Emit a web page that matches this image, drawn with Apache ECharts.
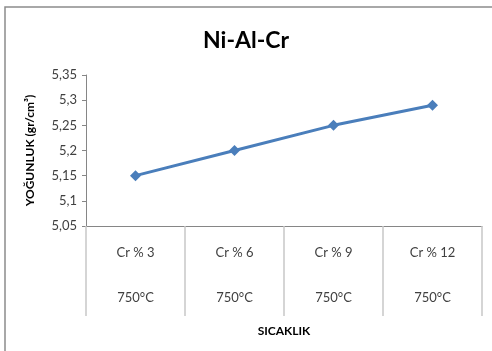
<!DOCTYPE html>
<html>
<head>
<meta charset="utf-8">
<script src="https://cdn.jsdelivr.net/npm/echarts@6/dist/echarts.min.js"></script>
<style>
  html, body { margin: 0; padding: 0; background: #fff; }
  #chart { width: 492px; height: 351px; }
</style>
</head>
<body>
<div id="chart"></div>
<script>
// Density of Ni-Al-Cr alloys sintered at 750°C, by Cr content
const compositions = ['Cr % 3', 'Cr % 6', 'Cr % 9', 'Cr % 12'];
const temperatures = ['750°C', '750°C', '750°C', '750°C'];
const density = [5.15, 5.2, 5.25, 5.29];

const FONT = "Lato, 'Liberation Sans', sans-serif";
const categories = compositions.map((c, i) => c + '\n\n' + temperatures[i]);

const chart = echarts.init(document.getElementById('chart'), null, { renderer: 'canvas' });
chart.setOption({
  animation: false,
  backgroundColor: '#ffffff',
  textStyle: { fontFamily: FONT },
  graphic: [{
    type: 'rect',
    shape: { x: 5, y: 7, width: 600, height: 500 },
    style: { fill: 'none', stroke: '#8c8c8c', lineWidth: 1.5 },
    silent: true
  }],
  title: {
    text: 'Ni-Al-Cr',
    left: 'center',
    top: 24,
    textStyle: { fontFamily: FONT, fontSize: 23, fontWeight: 'bold', color: '#000' }
  },
  grid: { left: 86, right: 10, top: 75, bottom: 125, containLabel: false },
  xAxis: {
    type: 'category',
    data: categories,
    boundaryGap: true,
    name: 'SICAKLIK',
    nameLocation: 'middle',
    nameGap: 99,
    nameTextStyle: { fontFamily: FONT, fontSize: 12, fontWeight: 'bold', color: '#000' },
    axisLine: { lineStyle: { color: '#868686', width: 1 } },
    axisTick: { show: true, interval: 0, length: 90, alignWithLabel: false, lineStyle: { color: '#c8c8c8', width: 1.5 } },
    axisLabel: {
      interval: 0, margin: 16, fontSize: 13, lineHeight: 22.5,
      color: '#404040', fontFamily: FONT
    },
    splitLine: { show: false }
  },
  yAxis: {
    type: 'value',
    min: 5.05,
    max: 5.35,
    interval: 0.05,
    name: 'YOĞUNLUK (gr/cm³)',
    nameLocation: 'middle',
    nameGap: 50,
    nameRotate: 90,
    nameTextStyle: { fontFamily: FONT, fontSize: 12, fontWeight: 'bold', color: '#000' },
    axisLine: { show: true, lineStyle: { color: '#868686', width: 1 } },
    axisTick: { show: true, length: 4, lineStyle: { color: '#868686' } },
    axisLabel: {
      margin: 9, fontSize: 13, color: '#404040', fontFamily: FONT,
      formatter: v => String(Math.round(v * 100) / 100).replace('.', ',')
    },
    splitLine: { show: false }
  },
  series: [{
    type: 'line',
    data: density,
    symbol: 'diamond',
    symbolSize: 11,
    lineStyle: { color: '#4a7ebb', width: 3 },
    itemStyle: { color: '#4a7ebb' }
  }]
});
</script>
</body>
</html>
